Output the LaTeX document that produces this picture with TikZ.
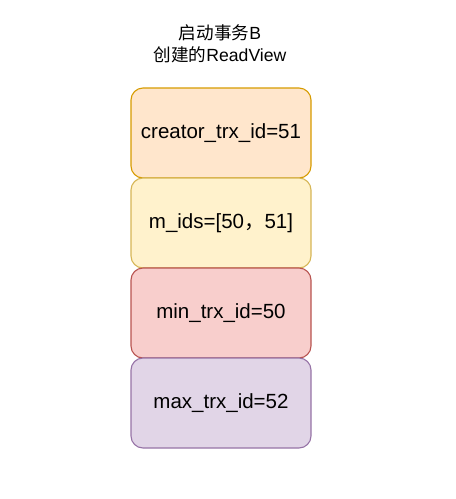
\documentclass[tikz,border=0pt]{standalone}
\usepackage{fontspec}
\setmainfont{Liberation Sans}
\newfontfamily\cjk{Noto Sans CJK SC}
\definecolor{orfill}{HTML}{FFE6CC}\definecolor{ordraw}{HTML}{D79B00}
\definecolor{yefill}{HTML}{FFF2CC}\definecolor{yedraw}{HTML}{D6B656}
\definecolor{refill}{HTML}{F8CECC}\definecolor{redraw}{HTML}{B85450}
\definecolor{pufill}{HTML}{E1D5E7}\definecolor{pudraw}{HTML}{9673A6}
\tikzset{
  field/.style={rectangle, rounded corners=12pt, minimum width=180pt, minimum height=90pt,
    inner sep=0pt, line width=1.1pt, font=\fontsize{20.5pt}{24pt}\selectfont},
  titletext/.style={align=center, font=\fontsize{17.6pt}{22pt}\selectfont}
}
\begin{document}
\begin{tikzpicture}[x=1pt,y=-1pt]
\useasboundingbox (0,0) rectangle (456,499);
\node[titletext] (title) at (220,44) {{\cjk 启动事务}B\\{\cjk 创建的}ReadView};
\node[field, fill=orfill, draw=ordraw] (creator) at (221,133) {creator\_trx\_id=51};
\node[field, fill=yefill, draw=yedraw] (mids) at (221,223) {m\_ids=[50{\cjk ，}51]};
\node[field, fill=refill, draw=redraw] (min) at (221,313) {min\_trx\_id=50};
\node[field, fill=pufill, draw=pudraw] (max) at (221,403) {max\_trx\_id=52};
\end{tikzpicture}
\end{document}
